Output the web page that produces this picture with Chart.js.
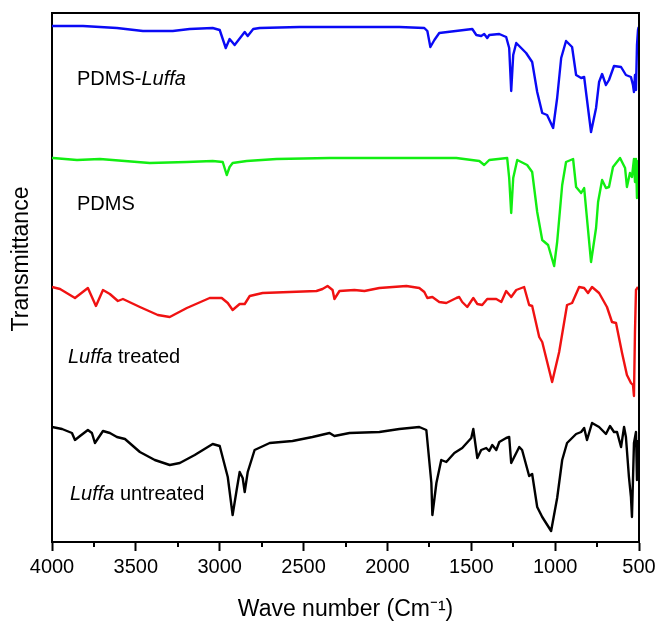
<!DOCTYPE html>
<html>
<head>
<meta charset="utf-8">
<script src="https://cdn.jsdelivr.net/npm/chart.js@4.4.1/dist/chart.umd.min.js"></script>
<style>
  body { margin: 0; background: #fff; }
  #wrap { width: 659px; height: 626px; }
</style>
</head>
<body>
<div id="wrap"><canvas id="ftirChart"></canvas></div>
<script>
// FTIR spectra, [wave number, transmittance (arbitrary units, curves offset)]
var pdmsLuffa = [
    [4000, 516], [3994, 516], [3815, 516], [3613, 514], [3458, 511], [3280, 511], [3179, 513],
    [3042, 514], [3000, 512], [2964, 494], [2941, 503], [2911, 497], [2851, 510], [2833, 506],
    [2800, 513], [2762, 514], [2524, 515], [2226, 515], [1929, 515], [1780, 514], [1762, 511],
    [1744, 495], [1720, 502], [1691, 509], [1494, 513], [1470, 507], [1441, 506], [1423, 508],
    [1405, 504], [1393, 507], [1333, 508], [1292, 505], [1274, 494], [1262, 451], [1250, 487],
    [1232, 499], [1173, 489], [1137, 480], [1107, 450], [1077, 429], [1048, 427], [1012, 414],
    [988, 444], [964, 484], [935, 501], [899, 495], [875, 467], [845, 464], [827, 465],
    [816, 450], [786, 410], [756, 434], [738, 460], [720, 468], [697, 457], [679, 462],
    [649, 476], [607, 475], [578, 467], [548, 465], [536, 457], [530, 450], [524, 467],
    [518, 452], [512, 497], [506, 512], [502, 515]
];

var pdms = [
    [4000, 384], [3994, 384], [3851, 382], [3714, 383], [3417, 379], [3196, 380], [3042, 381],
    [2982, 380], [2958, 367], [2941, 375], [2923, 379], [2839, 381], [2661, 383], [2345, 384],
    [1589, 384], [1452, 381], [1423, 377], [1393, 382], [1286, 384], [1274, 364], [1262, 329],
    [1250, 364], [1226, 382], [1167, 377], [1137, 370], [1107, 330], [1077, 302], [1042, 297],
    [1006, 276], [988, 300], [958, 357], [935, 380], [893, 383], [875, 355], [845, 349],
    [827, 354], [816, 334], [786, 280], [756, 314], [744, 340], [720, 362], [697, 354],
    [679, 355], [655, 375], [613, 384], [583, 374], [572, 355], [554, 369], [542, 365],
    [530, 383], [524, 360], [518, 383], [512, 344], [503, 382]
];

var luffaTreated = [
    [4000, 255], [3952, 253], [3863, 244], [3786, 254], [3738, 236], [3696, 252], [3655, 248],
    [3607, 241], [3577, 243], [3476, 235], [3369, 227], [3298, 225], [3196, 234], [3060, 244],
    [2988, 244], [2952, 239], [2923, 232], [2881, 238], [2851, 238], [2821, 246], [2744, 249],
    [2583, 250], [2423, 251], [2387, 253], [2357, 256], [2327, 252], [2316, 243], [2286, 251],
    [2197, 252], [2137, 251], [2048, 254], [1887, 256], [1810, 254], [1780, 250], [1762, 244],
    [1732, 245], [1691, 240], [1649, 239], [1589, 244], [1572, 245], [1554, 240], [1524, 235],
    [1488, 244], [1464, 238], [1435, 237], [1405, 243], [1351, 243], [1321, 240], [1292, 251],
    [1262, 245], [1232, 252], [1185, 255], [1155, 237], [1137, 236], [1095, 205], [1077, 200],
    [1018, 160], [976, 190], [929, 237], [899, 239], [857, 255], [827, 254], [804, 249],
    [780, 255], [738, 249], [691, 235], [661, 220], [637, 219], [601, 189], [572, 167],
    [548, 159], [536, 157], [530, 146], [524, 210], [518, 252], [506, 255]
];

var luffaUntreated = [
    [4000, 115], [3940, 113], [3881, 109], [3863, 102], [3833, 106], [3786, 112], [3762, 109],
    [3744, 99], [3696, 111], [3655, 109], [3613, 105], [3565, 103], [3476, 90], [3387, 82],
    [3298, 77], [3238, 79], [3149, 87], [3042, 98], [3000, 96], [2952, 65], [2923, 27],
    [2899, 52], [2881, 70], [2863, 64], [2851, 50], [2833, 70], [2792, 92], [2702, 99],
    [2566, 101], [2447, 105], [2345, 109], [2316, 106], [2226, 109], [2048, 110], [1929, 113],
    [1810, 115], [1768, 112], [1738, 59], [1732, 27], [1708, 59], [1679, 82], [1649, 80],
    [1601, 89], [1554, 94], [1500, 104], [1488, 113], [1464, 84], [1441, 92], [1411, 94],
    [1393, 91], [1375, 97], [1351, 92], [1333, 100], [1292, 104], [1274, 105], [1262, 79],
    [1214, 95], [1197, 92], [1155, 66], [1137, 68], [1107, 35], [1077, 25], [1024, 11],
    [988, 44], [958, 82], [929, 99], [875, 108], [845, 110], [827, 114], [810, 102],
    [780, 119], [738, 115], [697, 108], [673, 116], [649, 110], [631, 110], [607, 95],
    [589, 115], [578, 105], [560, 65], [548, 45], [542, 25], [530, 99], [518, 110],
    [512, 62], [506, 102]
];

var seriesNames = ['PDMS-Luffa', 'PDMS', 'Luffa treated', 'Luffa untreated'];
var seriesColors = ['#0a0af5', '#12ee12', '#f01212', '#000000'];
var xTicks = [500, 1000, 1500, 2000, 2500, 3000, 3500, 4000];
var xMinorTicks = [750, 1250, 1750, 2250, 2750, 3250, 3750];

var FONT = '"Liberation Sans", Arial, sans-serif';

// texto dentro del grafico, posicion en coordenadas de datos
var curveLabels = [
    { wave: 3851, level: 463, parts: [['PDMS-', false], ['Luffa', true]] },
    { wave: 3851, level: 338, parts: [['PDMS', false]] },
    { wave: 3905, level: 185, parts: [['Luffa', true], [' treated', false]] },
    { wave: 3893, level: 48, parts: [['Luffa', true], [' untreated', false]] }
];

var framePlugin = {
    id: 'frame',
    afterDraw: function (chart) {
        var ctx = chart.ctx;
        var a = chart.chartArea;
        var xs = chart.scales.x;
        var ys = chart.scales.y;
        ctx.save();
        ctx.strokeStyle = '#000';
        ctx.lineWidth = 2;
        ctx.beginPath();
        ctx.moveTo(a.left, a.top);
        ctx.lineTo(a.right, a.top);
        ctx.lineTo(a.right, a.bottom);
        ctx.stroke();
        // ticks menores
        ctx.beginPath();
        xMinorTicks.forEach(function (v) {
            var px = Math.round(xs.getPixelForValue(v));
            ctx.moveTo(px, a.bottom);
            ctx.lineTo(px, a.bottom + 5);
        });
        ctx.stroke();
        // etiquetas de las curvas
        ctx.fillStyle = '#000';
        ctx.textBaseline = 'middle';
        curveLabels.forEach(function (lab) {
            var px = xs.getPixelForValue(lab.wave);
            var py = ys.getPixelForValue(lab.level);
            lab.parts.forEach(function (p) {
                ctx.font = (p[1] ? 'italic ' : '') + '20px ' + FONT;
                ctx.fillText(p[0], px, py);
                px += ctx.measureText(p[0]).width;
            });
        });
        // titulo del eje y (algo por encima del centro, como en la figura)
        ctx.translate(22, ys.getPixelForValue(283));
        ctx.rotate(-Math.PI / 2);
        ctx.textAlign = 'center';
        ctx.font = '23px ' + FONT;
        ctx.fillText('Transmittance', 0, 0);
        ctx.restore();
    }
};

var datasets = [pdmsLuffa, pdms, luffaTreated, luffaUntreated].map(function (s, i) {
    return {
        label: seriesNames[i],
        data: s.map(function (p) { return { x: p[0], y: p[1] }; }),
        borderColor: seriesColors[i],
        borderWidth: 2.4,
        pointRadius: 0,
        tension: 0,
        borderJoinStyle: 'round',
        fill: false
    };
});

var ctx = document.getElementById('ftirChart').getContext('2d');
var ftirChart = new Chart(ctx, {
    type: 'line',
    data: { datasets: datasets },
    options: {
        responsive: true,
        maintainAspectRatio: false,
        animation: false,
        layout: { padding: { top: 13, right: 20, left: 0, bottom: 0 } },
        plugins: {
            legend: { display: false },
            tooltip: { enabled: false }
        },
        scales: {
            x: {
                type: 'linear',
                reverse: true,
                min: 500,
                max: 4000,
                afterBuildTicks: function (scale) {
                    scale.ticks = xTicks.map(function (v) { return { value: v }; });
                },
                afterFit: function (scale) { scale.height = 84; },
                ticks: {
                    color: '#000',
                    font: { family: FONT, size: 20 },
                    padding: 4,
                    maxRotation: 0,
                    autoSkip: false,
                    callback: function (v) { return String(v); }
                },
                grid: {
                    drawOnChartArea: false,
                    tickLength: 9,
                    tickColor: '#000',
                    tickWidth: 2
                },
                border: { color: '#000', width: 2 },
                title: {
                    display: true,
                    text: 'Wave number (Cm\u207B\u00B9)',
                    color: '#000',
                    font: { family: FONT, size: 23 },
                    padding: { top: 0, bottom: 3 }
                }
            },
            y: {
                min: 0,
                max: 529,
                afterFit: function (scale) { scale.width = 52; },
                ticks: { display: false },
                grid: { display: false },
                border: { color: '#000', width: 2 }
            }
        }
    },
    plugins: [framePlugin]
});
</script>
</body>
</html>
